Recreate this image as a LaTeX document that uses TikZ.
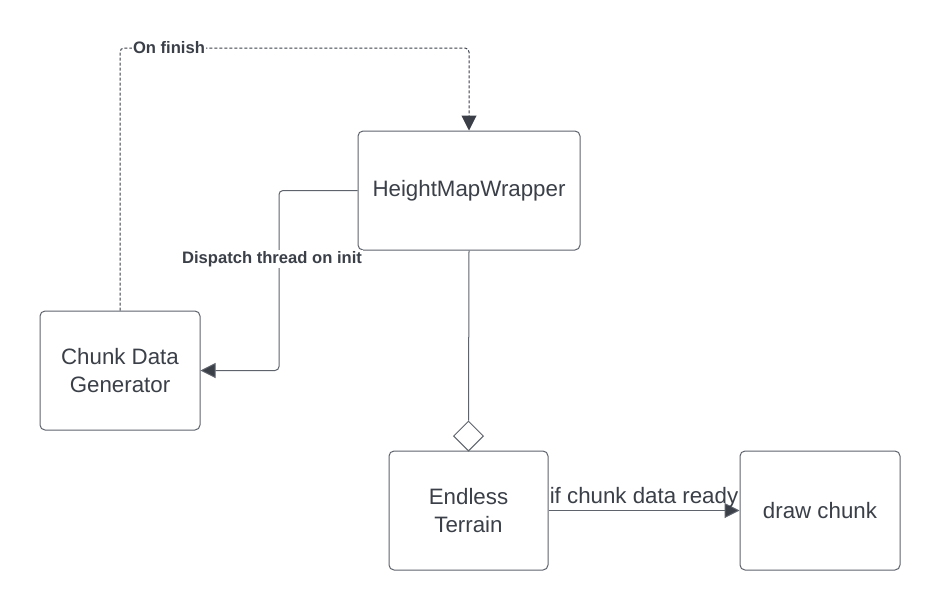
\documentclass[tikz,border=0pt]{standalone}
\usepackage{fontspec}
\setmainfont{Liberation Sans}
\usetikzlibrary{arrows.meta,shapes.geometric}
\definecolor{linec}{HTML}{5E636C}
\definecolor{txt}{HTML}{3A3F48}
\begin{document}
\begin{tikzpicture}[x=1pt,y=-1pt,
 box/.style={draw=linec, line width=1pt, rounded corners=5pt, text=txt, font=\fontsize{22.3}{27.5}\selectfont, align=center, inner sep=0pt},
 conn/.style={draw=linec, line width=1pt, rounded corners=4pt},
 tip/.style={-{Triangle[length=15pt,width=15pt,fill=txt]}},
 lab/.style={fill=white, text=txt, font=\bfseries\fontsize{16.6}{19}\selectfont, inner sep=1pt}]
\useasboundingbox[fill=white] (0,0) rectangle (940,611);
\node[box, minimum width=222pt, minimum height=119pt] (hmw) at (469,190.5) {HeightMapWrapper};
\node[box, minimum width=160pt, minimum height=119pt] (cdg) at (120,370.5) {Chunk Data\\Generator};
\node[box, minimum width=159pt, minimum height=119pt] (et) at (468.5,510.5) {Endless\\Terrain};
\node[box, minimum width=160pt, minimum height=119pt] (dc) at (820,510.5) {draw chunk};
\coordinate (top) at (300,48);
\coordinate (dmid) at (279,280);
\draw[conn, draw=txt, dash pattern=on 3pt off 2pt, tip] (cdg.north) |- (top) -| (hmw.north);
\node[lab] (onf) at (169,48) {On finish};
\draw[conn, tip] (hmw.west) -| (dmid) |- (cdg.east);
\node[lab] (dlab) at (272,259) {Dispatch thread on init};
\node[diamond, draw=linec, line width=1pt, fill=white, minimum width=30pt, minimum height=30pt, inner sep=0pt] (dia) at (468.5,436) {};
\draw[conn] (hmw.south) -- (dia.north);
\draw[conn, tip] (et.east) -- (dc.west) node[midway, above, inner sep=2pt, text=txt, font=\fontsize{22.3}{27.5}\selectfont] (ifl) {if chunk data ready};
\end{tikzpicture}
\end{document}
